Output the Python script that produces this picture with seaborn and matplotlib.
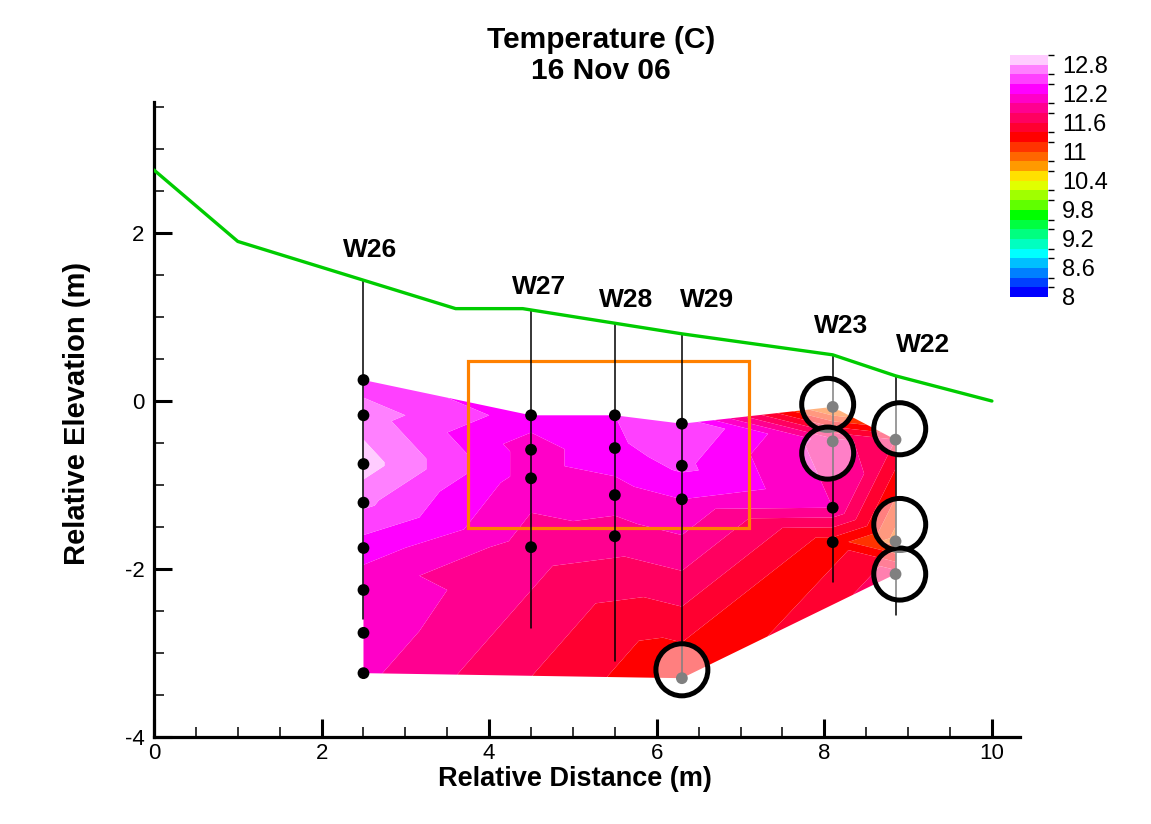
import numpy as np
import pandas as pd
import matplotlib
matplotlib.use("Agg")
import matplotlib.pyplot as plt
import matplotlib.tri as mtri
from matplotlib.colors import ListedColormap, BoundaryNorm
from matplotlib.patches import Circle, Rectangle
from matplotlib.ticker import MultipleLocator, FormatStrFormatter
import seaborn as sns

# ---------------- data ----------------
surface_x = [0.0, 1.0, 3.6, 4.4, 6.3, 8.1, 8.85, 10.0]
surface_y = [2.75, 1.9, 1.1, 1.1, 0.8, 0.55, 0.3, 0.0]

wells = ["W26", "W27", "W28", "W29", "W23", "W22"]
well_x = [2.5, 4.5, 5.5, 6.3, 8.1, 8.85]
well_bottom = [-2.6, -2.7, -3.1, -3.3, -2.15, -2.55]
label_x = [2.58, 4.6, 5.64, 6.6, 8.2, 9.18]
label_y = [1.8, 1.36, 1.2, 1.2, 0.89, 0.67]

sensor_well = (["W26"] * 8 + ["W27"] * 4 + ["W28"] * 4 + ["W29"] * 4
               + ["W23"] * 4 + ["W22"] * 3)
sensor_z = [0.25, -0.17, -0.75, -1.21, -1.75, -2.25, -2.76, -3.24,
            -0.17, -0.58, -0.92, -1.74,
            -0.17, -0.56, -1.12, -1.61,
            -0.27, -0.77, -1.17, -3.30,
            -0.07, -0.48, -1.27, -1.68,
            -0.46, -1.67, -2.06]
sensor_temp = [12.5, 12.7, 12.9, 12.65, 12.3, 12.05, 12.1, 12.05,
               12.3, 12.1, 12.1, 11.9,
               12.4, 12.35, 12.1, 11.9,
               12.6, 12.45, 12.2, 11.2,
               10.7, 11.9, 12.0, 11.3,
               11.6, 10.9, 11.7]
sensor_flag = (["ok"] * 8 + ["ok"] * 4 + ["ok"] * 4 + ["ok"] * 3 + ["suspect"]
               + ["suspect"] * 2 + ["ok"] * 2 + ["suspect"] * 3)

circle_x = [6.3, 8.04, 8.04, 8.9, 8.9, 8.9]
circle_y = [-3.2, -0.04, -0.62, -0.33, -1.47, -2.06]
circle_r = 0.31

box_x = [3.75, 7.1]
box_y = [-1.51, 0.48]

levels = np.round(np.arange(8.0, 13.01, 0.2), 2)
band_colors = ["#0000FF", "#0040FF", "#0080FF", "#00C0FF", "#00FFFF",
               "#00FFC0", "#00FF80", "#00FF40", "#00FF00", "#60FF00",
               "#A0FF00", "#E0FF00", "#FFE000", "#FF9900", "#FF6600",
               "#FF3300", "#FF0000", "#FF0030", "#FF0060", "#FF0090",
               "#FF00C8", "#FF00FF", "#FF40FF", "#FF80FF", "#FFCCFF"]
cbar_ticks = [8, 8.6, 9.2, 9.8, 10.4, 11, 11.6, 12.2, 12.8]

# ---------------- build table ----------------
wx = dict(zip(wells, well_x))
df = pd.DataFrame({"well": sensor_well, "z": sensor_z, "T": sensor_temp,
                   "flag": sensor_flag})
df["x"] = df["well"].map(wx)
well_top = np.interp(well_x, surface_x, surface_y)

# ---------------- style ----------------
sns.set_theme(style="white")
plt.rcParams["font.family"] = ["Liberation Sans", "DejaVu Sans"]
plt.rcParams["axes.unicode_minus"] = False
for k in ["text.color", "axes.labelcolor", "xtick.color", "ytick.color"]:
    plt.rcParams[k] = "black"

fig = plt.figure(figsize=(11.51, 8.24), dpi=100)
ax = fig.add_axes([0.1338, 0.1056, 0.752, 0.7706])

# contour field
tri = mtri.Triangulation(df["x"].values, df["z"].values)
tops = df.groupby("x")["z"].max().sort_index()
cx = df["x"].values[tri.triangles].mean(axis=1)
cy = df["z"].values[tri.triangles].mean(axis=1)
chain = np.interp(cx, tops.index.values, tops.values)
tri.set_mask(cy > chain - 1e-9)

cmap = ListedColormap(band_colors)
norm = BoundaryNorm(levels, cmap.N)
cf = ax.tricontourf(tri, df["T"].values, levels=levels, cmap=cmap,
                    norm=norm, zorder=1, antialiased=True)

# orange box
ax.add_patch(Rectangle((box_x[0], box_y[0]), box_x[1] - box_x[0],
                       box_y[1] - box_y[0], fill=False, edgecolor="#FF8000",
                       lw=2.3, zorder=2))

# wells
for x, t, b in zip(well_x, well_top, well_bottom):
    ax.plot([x, x], [t, b], color="black", lw=1.1, zorder=3)

# circles
for x, y in zip(circle_x, circle_y):
    ax.add_patch(Circle((x, y), circle_r, facecolor=(1, 1, 1, 0.5),
                        edgecolor="black", lw=3.6, zorder=4))

sns.scatterplot(data=df, x="x", y="z", hue="flag",
                palette={"ok": "black", "suspect": "#808080"},
                s=72, marker="o", edgecolor="none", legend=False, ax=ax,
                zorder=5)

# ground surface
sns.lineplot(x=surface_x, y=surface_y, color="#00CC00", lw=2.4, ax=ax,
             zorder=6, sort=False)

for w, lx, ly in zip(wells, label_x, label_y):
    ax.text(lx, ly, w, ha="center", va="center", fontsize=19,
            fontweight="bold", color="black", zorder=7)

# axes
ax.set_xlim(0, 10.33)
ax.set_ylim(-4, 3.56)
ax.set_facecolor("white")
for s in ["top", "right"]:
    ax.spines[s].set_visible(False)
for s in ["left", "bottom"]:
    ax.spines[s].set_linewidth(2.3)
    ax.spines[s].set_color("black")
ax.xaxis.set_major_locator(MultipleLocator(2))
ax.yaxis.set_major_locator(MultipleLocator(2))
ax.xaxis.set_minor_locator(MultipleLocator(0.5))
ax.yaxis.set_minor_locator(MultipleLocator(0.5))
ax.tick_params(which="major", direction="in", length=13, width=2.2,
               labelsize=16, colors="black")
ax.tick_params(which="minor", direction="in", length=7, width=1.1,
               colors="black")
ax.tick_params(axis="x", which="both", bottom=True, pad=4)
ax.tick_params(axis="y", which="both", left=True, pad=7)
ax.grid(False)
ax.set_xlabel("Relative Distance (m)", fontsize=19.5, fontweight="bold",
              labelpad=2)
ax.xaxis.label.set_x(0.486)
ax.set_ylabel("Relative Elevation (m)", fontsize=21, fontweight="bold",
              labelpad=24)
ax.yaxis.label.set_y(0.51)

fig.text(0.522, 0.933, "Temperature (C)\n16 Nov 06", ha="center",
         va="center", fontsize=21.5, fontweight="bold", linespacing=1.12)

# colorbar
cax = fig.add_axes([0.8775, 0.6396, 0.033, 0.2937])
cb = fig.colorbar(cf, cax=cax, ticks=cbar_ticks)
cb.outline.set_visible(False)
cb.ax.tick_params(length=0, labelsize=17, pad=10, colors="black")
cb.ax.yaxis.set_major_formatter(FormatStrFormatter("%g"))

fig.savefig("out.png", dpi=100, facecolor="white")
